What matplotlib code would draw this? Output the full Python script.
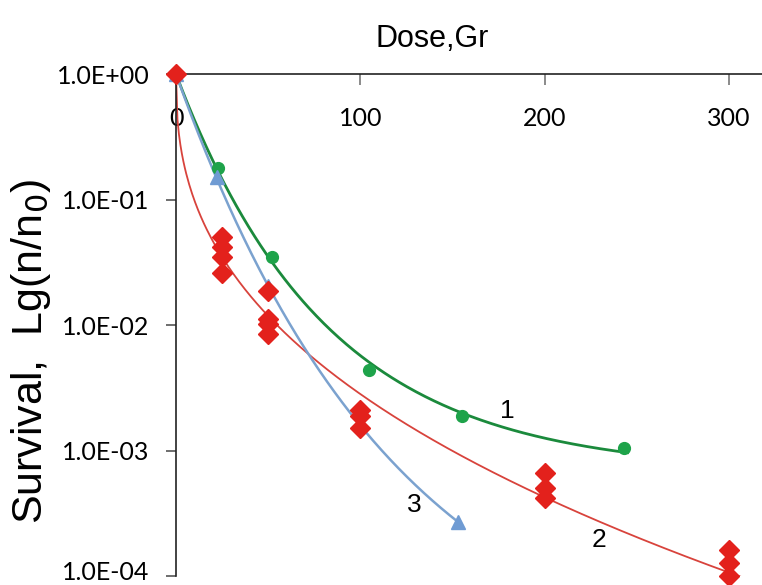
import numpy as np
import matplotlib.pyplot as plt
from matplotlib.ticker import FixedLocator, FuncFormatter

# ==================================
# DATA
# ==================================
dose_1 = [0, 23, 52, 105, 155, 243]
surv_1 = [1.0, 0.178, 0.035, 0.0044, 0.0019, 0.00105]

dose_2 = [0, 25, 25, 25, 25, 50, 50, 50, 50, 100, 100, 100, 200, 200, 200, 300, 300, 300]
surv_2 = [1.0, 0.050, 0.042, 0.035, 0.026, 0.0186, 0.0112, 0.0102, 0.0085,
          0.0021, 0.0019, 0.0015, 0.00066, 0.00050, 0.00042, 0.00016, 0.000126, 0.0001]

dose_3 = [0, 22, 50, 153]
surv_3 = [1.0, 0.15, 0.0204, 0.00027]

y_ticks = [1e0, 1e-1, 1e-2, 1e-3, 1e-4]
x_ticks = [0, 100, 200, 300]

GREEN_PT, GREEN_LN = "#1ea34a", "#1b8a3c"
RED_PT, RED_LN = "#e3211c", "#d8433c"
BLUE_PT, BLUE_LN = "#6f9bd3", "#7ba2cf"

# ==================================
# TREND LINES (fitted to the points)
# ==================================
def sat_fit(d, s):
    # log10(y) = -A * (1 - exp(-x/tau)), grid over tau, least squares for A
    d = np.array(d, float)
    ly = -np.log10(np.array(s, float))
    best = None
    for tau in np.linspace(20, 400, 761):
        g = 1 - np.exp(-d / tau)
        A = (g @ ly) / (g @ g)
        err = np.sum((A * g - ly) ** 2)
        if best is None or err < best[0]:
            best = (err, A, tau)
    return best[1], best[2]

def power_fit(d, s):
    d = np.array(d, float)
    s = np.array(s, float)
    m = d > 0
    p, lc = np.polyfit(np.log(d[m]), np.log(-np.log10(s[m])), 1)
    return p, np.exp(lc)

A1, t1 = sat_fit(dose_1, surv_1)
xx1 = np.linspace(0, 245, 300)
yy1 = 10 ** (-A1 * (1 - np.exp(-xx1 / t1)))

p2, k2 = power_fit(dose_2, surv_2)
xx2 = np.linspace(0, 318, 400)
yy2 = 10 ** (-k2 * xx2 ** p2)

A3, t3 = sat_fit(dose_3, surv_3)
xx3 = np.linspace(0, dose_3[-1], 300)
yy3 = 10 ** (-A3 * (1 - np.exp(-xx3 / t3)))

# ==================================
# PLOT
# ==================================
fig = plt.figure(figsize=(7.62, 5.85), dpi=100)
ax = fig.add_axes([176 / 762, 1 - 576 / 585, 1 - 176 / 762, (576 - 74) / 585])

ax.plot(xx1, yy1, color=GREEN_LN, lw=2)
ax.plot(xx2, yy2, color=RED_LN, lw=1.3)
ax.plot(xx3, yy3, color=BLUE_LN, lw=1.8)

ax.plot(dose_1, surv_1, "o", color=GREEN_PT, ms=8.5, clip_on=False, zorder=4)
ax.plot(dose_3, surv_3, "^", color=BLUE_PT, ms=10, clip_on=False, zorder=4)
ax.plot(dose_2, surv_2, "D", color=RED_PT, ms=10, clip_on=False, zorder=5)

ax.set_yscale("log")
ax.set_ylim(1e-4, 1)
ax.set_xlim(0, 318)

for s in ["right", "bottom"]:
    ax.spines[s].set_visible(False)
for s in ["left", "top"]:
    ax.spines[s].set_color("#222222")
    ax.spines[s].set_linewidth(1.2)

def ylab(v, pos):
    # the lowest label is drawn separately so it stays inside the picture
    if v < 5e-4:
        return ""
    return "{:.1E}".format(v)

ax.yaxis.set_major_locator(FixedLocator(y_ticks))
ax.yaxis.set_minor_locator(FixedLocator([]))
ax.yaxis.set_major_formatter(FuncFormatter(ylab))
ax.tick_params(axis="y", direction="out", length=7, width=1.2, color="#555555",
               labelsize=18, pad=12)

ax.xaxis.set_major_locator(FixedLocator(x_ticks))
ax.xaxis.tick_top()
ax.tick_params(axis="x", direction="in", length=8, width=1.2, color="#777777",
               labelsize=18, pad=-40)

for lab in ax.get_yticklabels() + ax.get_xticklabels():
    lab.set_fontfamily("Lato")

ax.annotate("{:.1E}".format(y_ticks[-1]), xy=(0, y_ticks[-1]),
            xycoords=("axes fraction", "data"), xytext=(-19, -5.5),
            textcoords="offset points", ha="right", va="bottom",
            fontsize=18, family="Lato", annotation_clip=False)

ax.text(0.437, 1.04, "Dose,Gr", transform=ax.transAxes, fontsize=22,
        ha="center", va="bottom", family="Liberation Sans")
fig.text(0.041, 0.40, r"Survival,  Lg(n/n$_0$)", rotation=90, fontsize=31,
         ha="center", va="center", family="Liberation Sans")

ax.text(180, 0.00207, "1", fontsize=19, ha="center", va="center", family="Liberation Sans")
ax.text(229.3, 0.000195, "2", fontsize=19, ha="center", va="center", family="Liberation Sans")
ax.text(129.5, 0.00037, "3", fontsize=19, ha="center", va="center", family="Liberation Sans")

plt.savefig("out.png", dpi=100)
